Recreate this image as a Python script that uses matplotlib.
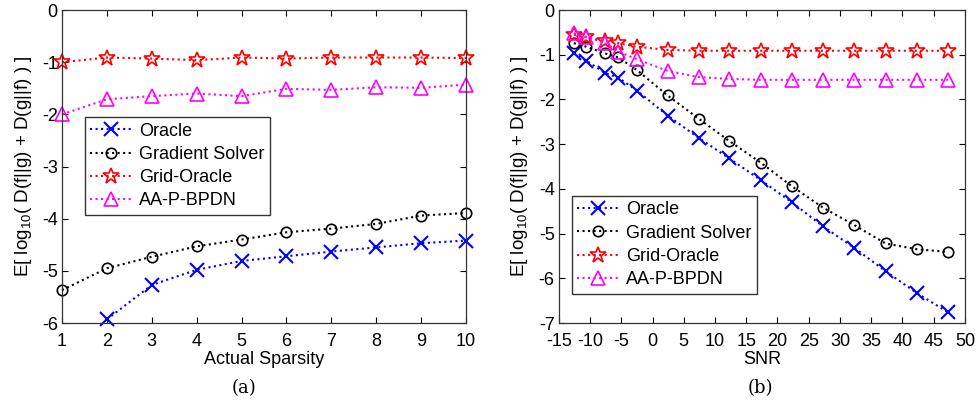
import numpy as np
import matplotlib
matplotlib.use("Agg")
import matplotlib.pyplot as plt

plt.rcParams['font.family'] = ['Liberation Sans', 'DejaVu Sans']
plt.rcParams['mathtext.fontset'] = 'custom'
plt.rcParams['mathtext.rm'] = 'Liberation Sans'
plt.rcParams['mathtext.it'] = 'Liberation Sans'
plt.rcParams['axes.unicode_minus'] = False

# Panel (a): Actual sparsity
sparsity = [1, 2, 3, 4, 5, 6, 7, 8, 9, 10]
a_oracle = [np.nan, -5.93, -5.27, -4.98, -4.81, -4.72, -4.63, -4.55, -4.47, -4.42]
a_gradient = [-5.37, -4.95, -4.73, -4.53, -4.40, -4.26, -4.19, -4.10, -3.94, -3.89]
a_grid = [-1.00, -0.91, -0.93, -0.96, -0.91, -0.93, -0.91, -0.91, -0.91, -0.92]
a_aap = [-2.00, -1.71, -1.65, -1.60, -1.65, -1.51, -1.53, -1.48, -1.49, -1.43]

# Panel (b): SNR
snr = [-12.6, -10.6, -7.6, -5.5, -2.5, 2.4, 7.4, 12.3, 17.3, 22.3, 27.3, 32.3, 37.3, 42.3, 47.3]
b_oracle = [-0.97, -1.13, -1.41, -1.51, -1.80, -2.36, -2.86, -3.32, -3.80, -4.30, -4.84, -5.32, -5.84, -6.33, -6.76]
b_gradient = [-0.74, -0.82, -0.97, -1.06, -1.34, -1.91, -2.43, -2.93, -3.41, -3.94, -4.42, -4.81, -5.22, -5.35, -5.41]
b_grid = [-0.55, -0.61, -0.69, -0.74, -0.82, -0.89, -0.91, -0.91, -0.91, -0.91, -0.91, -0.91, -0.91, -0.91, -0.91]
b_aap = [-0.52, -0.60, -0.73, -0.93, -1.10, -1.36, -1.50, -1.54, -1.56, -1.56, -1.56, -1.56, -1.56, -1.56, -1.56]

labels = ['Oracle', 'Gradient Solver', 'Grid-Oracle', 'AA-P-BPDN']
ylabel = r'E[ log$_{10}$( D(f||g) + D(g||f) ) ]'

fig = plt.figure(figsize=(9.77, 4.08), dpi=100)
ax1 = fig.add_axes([0.0635, 0.2083, 0.4135, 0.767])
ax2 = fig.add_axes([0.572, 0.2083, 0.4156, 0.767])

def draw(ax, x, series):
    styles = [
        dict(color='#0000ff', marker='x', ms=10, mew=1.5),
        dict(color='black', marker='o', ms=7.5, mfc='none', mew=1.2),
        dict(color='#ff0000', marker='*', ms=12, mfc='none', mew=1.2),
        dict(color='#ff00ff', marker='^', ms=9.5, mfc='none', mew=1.2),
    ]
    for y, st, lab in zip(series, styles, labels):
        ax.plot(x, y, linestyle=':', lw=1.5, label=lab, clip_on=False, **st)

draw(ax1, sparsity, [a_oracle, a_gradient, a_grid, a_aap])
draw(ax2, snr, [b_oracle, b_gradient, b_grid, b_aap])

ax1.set_xlim(1, 10)
ax1.set_ylim(-6, 0)
ax1.set_xticks(range(1, 11))
ax1.set_yticks(range(-6, 1))
ax1.set_xlabel('Actual Sparsity', fontsize=13, labelpad=1)

ax2.set_xlim(-15, 50)
ax2.set_ylim(-7, 0)
ax2.set_xticks(range(-15, 51, 5))
ax2.set_yticks(range(-7, 1))
ax2.set_xlabel('SNR', fontsize=13, labelpad=1)

for ax in (ax1, ax2):
    ax.set_ylabel(ylabel, fontsize=13.5, labelpad=6)
    ax.tick_params(direction='in', top=True, right=True, labelsize=13, length=4)
    ax.tick_params(axis='x', pad=7)
    ax.tick_params(axis='y', pad=3)
    for s in ax.spines.values():
        s.set_color('#333333')
        s.set_linewidth(0.9)

common = dict(loc='upper left', fontsize=13, fancybox=False, edgecolor='#333333',
              framealpha=1, handlelength=2.3, borderpad=0.3, labelspacing=0.35,
              handletextpad=0.4, borderaxespad=0)
ax1.legend(bbox_to_anchor=(0.057, 0.658), **common)
ax2.legend(bbox_to_anchor=(0.032, 0.406), **common)

fig.text(244/977, 1 - 388/408, '(a)', ha='center', va='center', fontsize=13, family='DejaVu Serif')
fig.text(760/977, 1 - 388/408, '(b)', ha='center', va='center', fontsize=13, family='DejaVu Serif')

fig.savefig('out.png', dpi=100)
